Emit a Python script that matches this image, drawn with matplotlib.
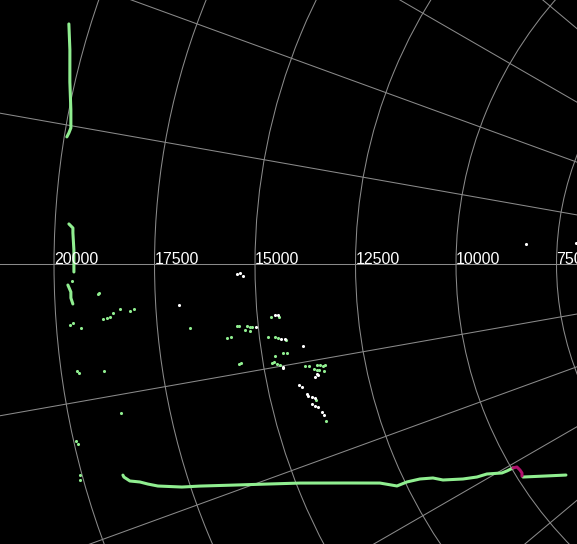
import numpy as np
import matplotlib.pyplot as plt

plt.rcParams['font.family'] = ['Liberation Sans', 'DejaVu Sans']

# polar data: angle in degrees, range in metres
track_north_theta = [163.05, 164.77, 166.96, 168.89, 170.16, 170.54, 170.84]
track_north_r = [20522, 20319, 20125, 19955, 19873, 19901, 19935]

track_west_theta = [177.06, 177.34, 177.70, 178.94, 180.55]
track_west_r = [19656, 19551, 19546, 19509, 19506]

track_hook_theta = [181.49, 182.00, 182.44, 182.88]
track_hook_r = [19662, 19593, 19598, 19556]

track_south_theta = [195.99, 196.15, 196.56, 196.85, 197.18, 197.56, 198.22, 198.61,
                     199.44, 200.38, 201.39, 203.15, 204.57, 205.66, 205.74, 206.09,
                     206.67, 207.44, 208.50, 209.15, 209.45, 210.35, 210.46, 210.53]
track_south_r = [19022, 19012, 18897, 18666, 18491, 18267, 17707, 17274,
                 16491, 15685, 14910, 13828, 13077, 12724, 12457, 12134,
                 11833, 11634, 11184, 10855, 10601, 10265, 10131, 9965]

turn_theta = [210.53, 210.70, 211.30, 211.82, 212.19]
turn_r = [9965, 9868, 9842, 9838, 9878]

track_exit_theta = [212.39, 214.05, 215.79]
track_exit_r = [9870, 9399, 8957]

green_pts_theta = [181.20, 182.15, 182.22, 183.52, 183.65, 183.45, 183.72, 184.01, 184.07,
                   184.13, 184.26, 184.39, 184.67, 187.77, 187.93, 188.04, 191.39, 192.72,
                   192.96, 195.14, 195.48, 185.43, 186.64, 186.60, 185.66, 185.67, 185.75,
                   185.87, 185.89, 186.10, 186.24, 185.11, 185.18, 187.01, 187.09, 187.22,
                   187.52, 188.75, 188.81, 188.92, 189.13, 189.07, 189.54, 189.48, 189.72,
                   189.86, 190.40, 190.48, 190.53, 190.58, 190.74, 190.68, 190.87, 191.04,
                   191.07, 191.28, 194.04, 196.39]
green_pts_r = [19561, 18897, 18924, 18048, 18150, 18394, 18575, 18656, 18732,
               18834, 19586, 19663, 19396, 19611, 19568, 18946, 18705, 19946,
               19914, 20053, 20086, 16695, 15806, 15704, 15526, 15476, 15279,
               15207, 15157, 15338, 15217, 14662, 14465, 14789, 14617, 14545,
               14356, 14475, 14376, 14682, 15598, 15545, 14784, 14731, 14667,
               14597, 13988, 13891, 13691, 13617, 13548, 13495, 13783, 13714,
               13665, 13548, 13900, 13797]

white_pts_theta = [180.88, 180.79, 181.07, 184.95, 184.98, 185.93, 187.36, 187.41, 188.35,
                   190.11, 190.20, 191.44, 191.71, 191.57, 192.16, 192.42, 193.23, 193.45,
                   193.64, 193.81, 194.33, 194.61, 194.78, 195.39, 195.74, 183.41, 176.47,
                   175.64]
white_pts_r = [15453, 15378, 15304, 14560, 14485, 15058, 14475, 14376, 13958,
               14532, 14535, 13734, 13797, 13714, 14227, 14165, 14082, 14070,
               13978, 13913, 14020, 13960, 13896, 13831, 13803, 16924, 8275,
               7036]

r_ticks = [2500, 5000, 7500, 10000, 12500, 15000, 17500, 20000, 22500]

GREEN = '#90ee90'

fig = plt.figure(figsize=(5.77, 5.44), dpi=100, facecolor='black')
# oversized polar axes so that only a corner of the disc is visible
ax = fig.add_axes([-0.1154, -1.1858, 3.2049, 3.3993], projection='polar', facecolor='black')
ax.set_ylim(0, 23000)
ax.set_thetagrids(np.arange(0, 360, 10))
ax.set_rgrids(r_ticks)
ax.set_xticklabels([])
ax.set_yticklabels([])
ax.grid(True, color='#8a8a8a', linewidth=0.75)
ax.spines['polar'].set_visible(False)

for th, rr in [(track_north_theta, track_north_r), (track_west_theta, track_west_r),
               (track_hook_theta, track_hook_r), (track_south_theta, track_south_r),
               (track_exit_theta, track_exit_r)]:
    ax.plot(np.radians(th), rr, color=GREEN, lw=2.2, solid_capstyle='round', zorder=3)

ax.plot(np.radians(turn_theta), turn_r, color='#b0106c', lw=2.2, solid_capstyle='round', zorder=4)

ax.scatter(np.radians(green_pts_theta), green_pts_r, s=5, color=GREEN, linewidths=0, zorder=3)
ax.scatter(np.radians(white_pts_theta), white_pts_r, s=5, color='white', linewidths=0, zorder=3)

for r in r_ticks:
    ax.text(np.pi, r, str(r), color='white', fontsize=11.5, ha='left', va='baseline', zorder=5)

fig.savefig('out.png', dpi=100, facecolor='black')
